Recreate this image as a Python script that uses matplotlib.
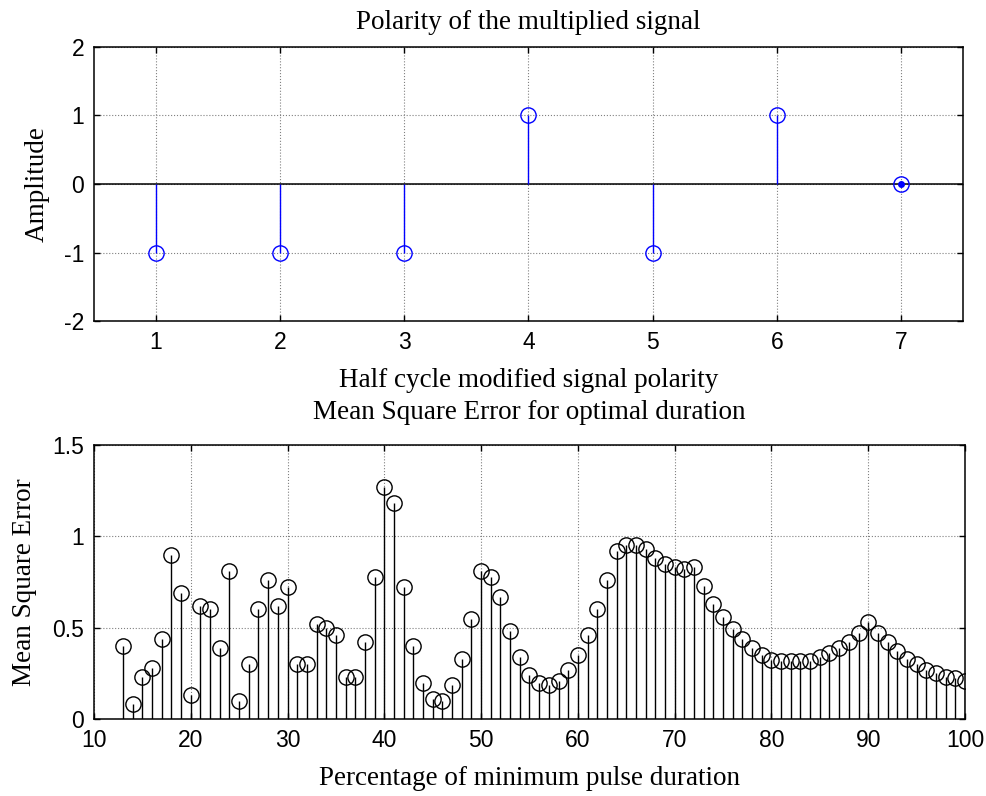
import numpy as np
import matplotlib
matplotlib.use("Agg")
import matplotlib.pyplot as plt

# top panel: half cycle polarity
half_cycle = [1, 2, 3, 4, 5, 6, 7]
polarity = [-1, -1, -1, 1, -1, 1, 0]

# bottom panel: mean square error vs percentage of minimum pulse duration
pct = list(range(13, 101))
mse = [0.40, 0.08, 0.23, 0.28, 0.44, 0.90, 0.69, 0.13, 0.62, 0.60,
       0.39, 0.81, 0.10, 0.30, 0.60, 0.76, 0.62, 0.72, 0.30, 0.30,
       0.52, 0.50, 0.46, 0.23, 0.23, 0.42, 0.78, 1.27, 1.18, 0.72,
       0.40, 0.195, 0.11, 0.10, 0.186, 0.33, 0.55, 0.81, 0.78, 0.67,
       0.48, 0.34, 0.24, 0.195, 0.186, 0.21, 0.27, 0.35, 0.46, 0.60,
       0.76, 0.92, 0.95, 0.95, 0.93, 0.88, 0.85, 0.83, 0.82, 0.83,
       0.73, 0.63, 0.56, 0.49, 0.436, 0.387, 0.35, 0.323, 0.317, 0.317,
       0.317, 0.32, 0.34, 0.36, 0.387, 0.42, 0.47, 0.53, 0.47, 0.42,
       0.37, 0.33, 0.30, 0.27, 0.25, 0.23, 0.226, 0.21]

plt.rcParams['font.family'] = ['Liberation Sans', 'DejaVu Sans']
plt.rcParams['axes.unicode_minus'] = False
serif = 'Liberation Serif'
fs_lab = 19.5


def matlab_axes(ax):
    ax.grid(True, color='#808080', linestyle=':', linewidth=0.8)
    ax.tick_params(direction='in', length=4, width=1, top=True, right=True,
                   labelsize=16.5, pad=7)
    for s in ax.spines.values():
        s.set_linewidth(1.1)
    ax.set_axisbelow(True)


fig = plt.figure(figsize=(9.87, 7.96), dpi=100)

ax1 = fig.add_axes([0.0952, 0.5967, 0.8805, 0.3443])
ax1.axhline(0, color='black', linewidth=1.1, zorder=2)
ax1.vlines(half_cycle, 0, polarity, color='blue', linewidth=1.0, zorder=3)
ax1.plot(half_cycle, polarity, 'o', markerfacecolor='none',
         markeredgecolor='blue', markersize=11, markeredgewidth=1.0, zorder=4)
zx = [x for x, v in zip(half_cycle, polarity) if v == 0]
ax1.plot(zx, [0] * len(zx), 'o', color='blue', markersize=4, zorder=5)
ax1.set_xlim(0.5, 7.5)
ax1.set_ylim(-2, 2)
ax1.set_xticks(half_cycle)
ax1.set_yticks([-2, -1, 0, 1, 2])
matlab_axes(ax1)
ax1.set_title('Polarity of the multiplied signal', family=serif, fontsize=fs_lab, pad=13)
ax1.set_xlabel('Half cycle modified signal polarity', family=serif, fontsize=fs_lab, labelpad=10)
ax1.set_ylabel('Amplitude', family=serif, fontsize=fs_lab, labelpad=10)

ax2 = fig.add_axes([0.0952, 0.0967, 0.8825, 0.3443])
ax2.vlines(pct, 0, mse, color='black', linewidth=1.0, zorder=3)
ax2.plot(pct, mse, 'o', markerfacecolor='none', markeredgecolor='black',
         markersize=11, markeredgewidth=1.0, zorder=4)
ax2.set_xlim(10, 100)
ax2.set_ylim(0, 1.5)
ax2.set_xticks(range(10, 101, 10))
ax2.set_yticks([0, 0.5, 1, 1.5])
ax2.set_yticklabels(['0', '0.5', '1', '1.5'])
matlab_axes(ax2)
ax2.set_title('Mean Square Error for optimal duration', family=serif, fontsize=fs_lab, pad=19)
ax2.set_xlabel('Percentage of minimum pulse duration', family=serif, fontsize=fs_lab, labelpad=10)
ax2.set_ylabel('Mean Square Error', family=serif, fontsize=fs_lab, labelpad=11)

fig.savefig('out.png', dpi=100)
